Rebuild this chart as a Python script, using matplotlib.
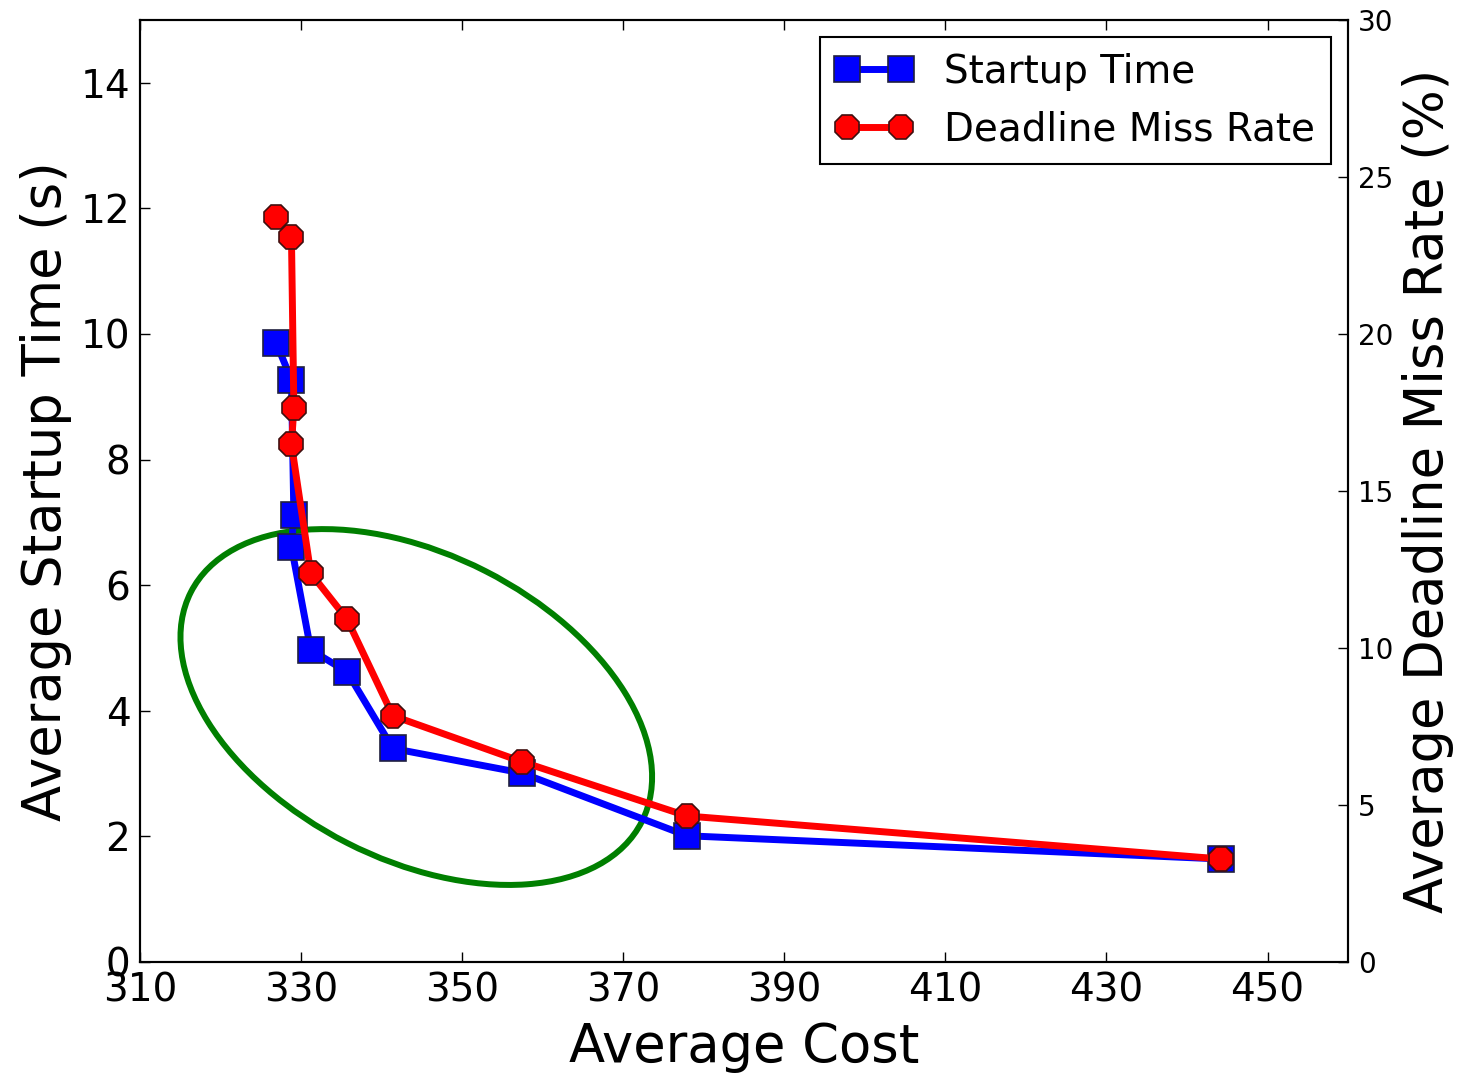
import matplotlib
matplotlib.use('Agg')
import matplotlib.pyplot as plt
from matplotlib.patches import Ellipse
from matplotlib.transforms import ScaledTranslation

# data
cost = [326.9, 328.8, 329.1, 328.8, 331.2, 335.7, 341.4, 357.4, 377.9, 444.2]
startup_time = [9.86, 9.27, 7.12, 6.61, 4.97, 4.62, 3.40, 3.01, 2.01, 1.64]
miss_rate = [23.72, 23.08, 17.63, 16.49, 12.38, 10.92, 7.84, 6.38, 4.65, 3.28]

x_ticks = [310, 330, 350, 370, 390, 410, 430, 450]
left_ticks = [0, 2, 4, 6, 8, 10, 12, 14]
right_ticks = [0, 5, 10, 15, 20, 25, 30]

fig = plt.figure(figsize=(14.68, 10.81), dpi=100)
ax = fig.add_axes([0.0954, 0.1101, 0.8229, 0.8714])
ax2 = ax.twinx()

l1, = ax.plot(cost, startup_time, color='b', lw=5, marker='s', ms=19,
              mec='#202040', mew=1.2, label='Startup Time')
l2, = ax2.plot(cost, miss_rate, color='r', lw=5, marker='8', ms=18,
               mec='#401010', mew=1.2, label='Deadline Miss Rate')

# green ellipse around the knee (size in inches, centre in data coords)
tr = fig.dpi_scale_trans + ScaledTranslation(344.3, 4.06, ax.transData)
ell = Ellipse((0, 0), 5.06, 3.05, angle=-27.0, fill=False,
              edgecolor='#007f00', lw=4.3, transform=tr)
ax.add_patch(ell)

ax.set_xlim(310, 460)
ax.set_ylim(0, 15)
ax2.set_ylim(0, 30)
ax.set_xticks(x_ticks)
ax.set_yticks(left_ticks)
ax2.set_yticks(right_ticks)

ax.tick_params(axis='x', direction='in', length=7, width=1, top=True,
               labelsize=28, pad=7)
ax.tick_params(axis='y', direction='in', length=7, width=1, right=False,
               labelsize=28, pad=7)
ax2.tick_params(axis='y', direction='in', length=7, width=1, left=False,
                labelsize=20, pad=7)

for a in (ax, ax2):
    for s in a.spines.values():
        s.set_linewidth(1.5)

ax.set_xlabel('Average Cost', fontsize=38, labelpad=8)
ax.set_ylabel('Average Startup Time (s)', fontsize=38, labelpad=6)
ax2.set_ylabel('Average Deadline Miss Rate (%)', fontsize=38, labelpad=6)

leg = ax2.legend([l1, l2], ['Startup Time', 'Deadline Miss Rate'],
                 loc='upper right', fontsize=28, numpoints=2,
                 fancybox=False, framealpha=1, edgecolor='k',
                 borderaxespad=0.45)
leg.get_frame().set_linewidth(1.5)

fig.savefig('out.png', dpi=100)
